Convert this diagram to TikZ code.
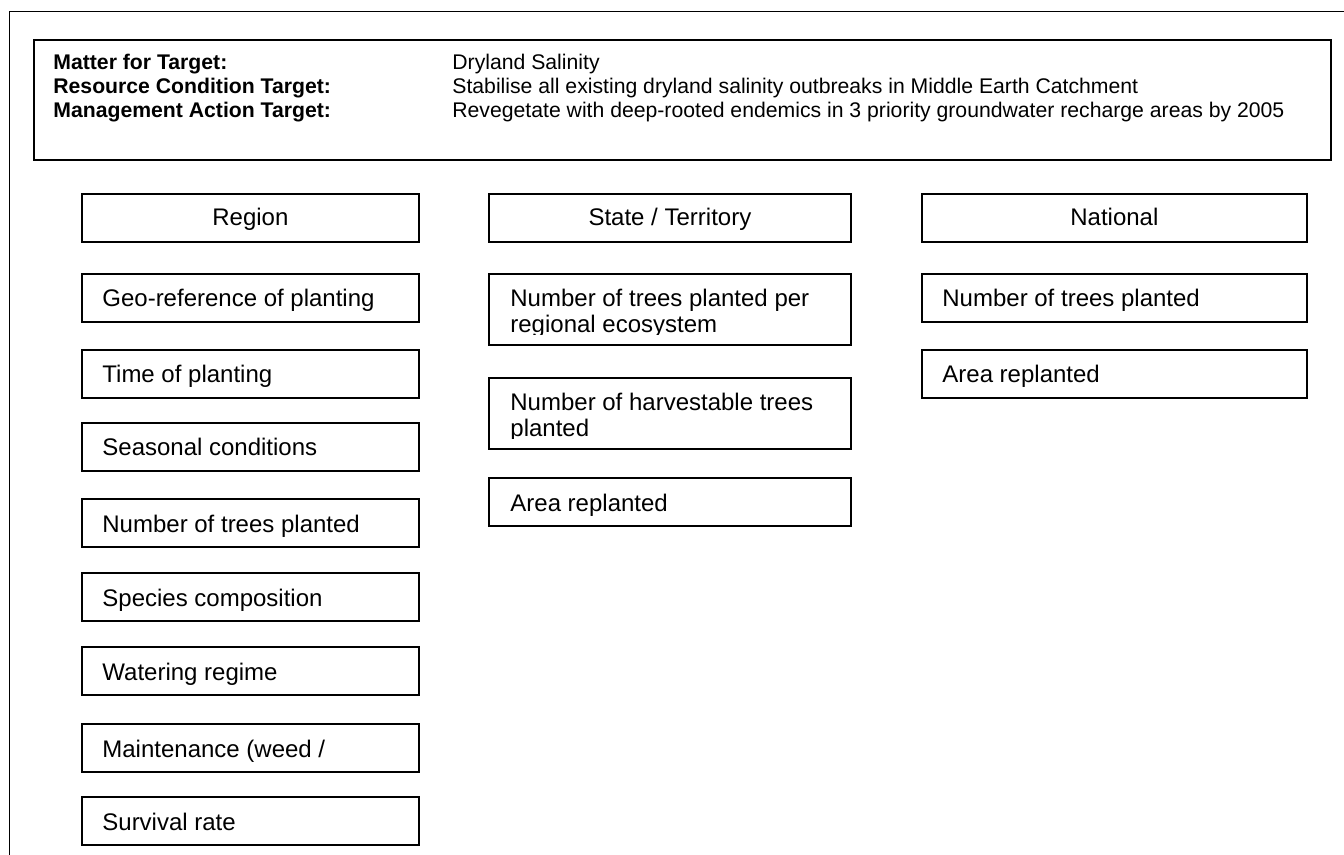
\documentclass[tikz,border=0pt]{standalone}
\usepackage{fontspec}
\setmainfont{Liberation Sans}

\tikzset{
  cell/.style={draw, line width=0.9pt, anchor=north west, inner sep=0pt,
               minimum height=24pt},
  regcell/.style={cell, minimum width=168.5pt},
  stcell/.style={cell, minimum width=181pt},
  natcell/.style={cell, minimum width=192.5pt},
  tallcell/.style={minimum height=35.75pt},
  celltxt/.style={anchor=base west, inner sep=0pt, font=\fontsize{12}{14}\selectfont},
  headtxt/.style={anchor=base, inner sep=0pt, font=\fontsize{12}{14}\selectfont},
  keytxt/.style={anchor=base west, inner sep=0pt, font=\fontsize{10.6}{12}\selectfont\bfseries},
  valtxt/.style={anchor=base west, inner sep=0pt, font=\fontsize{10.6}{12}\selectfont}
}

\begin{document}
\begin{tikzpicture}[x=0.5pt, y=-0.5pt]
  \useasboundingbox (0,0) rectangle (1344,855);
  % outer frame (runs off the page right and below)
  \draw[line width=0.8pt] (1344,11.5) -- (9.5,11.5) -- (9.5,855);

  % target box
  \node[draw, line width=0.8pt, anchor=north west, inner sep=0pt,
        minimum width=648.5pt, minimum height=60pt] (target) at (33,39) {};
  \node[keytxt] (matterkey) at (53,70) {Matter for Target:};
  \node[keytxt] (rckey) at (53,94) {Resource Condition Target:};
  \node[keytxt] (makey) at (53,118) {Management Action Target:};
  \node[valtxt] (matterval) at (452,70) {Dryland Salinity};
  \node[valtxt] (rcval) at (452,94) {Stabilise all existing dryland salinity outbreaks in Middle Earth Catchment};
  \node[valtxt] (maval) at (452,118) {Revegetate with deep-rooted endemics in 3 priority groundwater recharge areas by 2005};

  % column headings
  \node[regcell] (region) at (81,193) {};
  \node[headtxt] (regiontxt) at ([yshift=-16.5pt]region.north) {Region};
  \node[stcell] (state) at (488,193) {};
  \node[headtxt] (statetxt) at ([yshift=-16.5pt]state.north) {State / Territory};
  \node[natcell] (nation) at (921,193) {};
  \node[headtxt] (nationtxt) at ([yshift=-16.5pt]nation.north) {National};

  % region column
  \foreach \y/\t [count=\i] in {273/Geo-reference of planting, 349/Time of planting,
      422/Seasonal conditions, 498/Number of trees planted, 572/Species composition,
      646/Watering regime, 723/{Maintenance (weed /}, 796/Survival rate} {
    \node[regcell] (reg\i) at (81,\y) {};
    \node[celltxt] (regtxt\i) at ([xshift=10.5pt, yshift=-17pt]reg\i.north west) {\t};
  }

  % state / territory column
  \node[stcell, tallcell] (st1) at (488,273) {};
  \node[stcell, tallcell] (st2) at (488,377) {};
  \node[stcell] (st3) at (488,477) {};
  \begin{scope}
    \clip (488,273) rectangle (850,335);
    \node[celltxt] (sttxt1a) at ([xshift=11pt, yshift=-17pt]st1.north west) {Number of trees planted per};
    \node[celltxt] (sttxt1b) at ([xshift=11pt, yshift=-30pt]st1.north west) {regional ecosystem};
  \end{scope}
  \begin{scope}
    \clip (488,377) rectangle (850,439);
    \node[celltxt] (sttxt2a) at ([xshift=11pt, yshift=-17pt]st2.north west) {Number of harvestable trees};
    \node[celltxt] (sttxt2b) at ([xshift=11pt, yshift=-30pt]st2.north west) {planted};
  \end{scope}
  \node[celltxt] (sttxt3) at ([xshift=11pt, yshift=-17pt]st3.north west) {Area replanted};

  % national column
  \node[natcell] (nat1) at (921,273) {};
  \node[celltxt] (nattxt1) at ([xshift=10.5pt, yshift=-17pt]nat1.north west) {Number of trees planted};
  \node[natcell] (nat2) at (921,349) {};
  \node[celltxt] (nattxt2) at ([xshift=10.5pt, yshift=-17pt]nat2.north west) {Area replanted};
\end{tikzpicture}
\end{document}
